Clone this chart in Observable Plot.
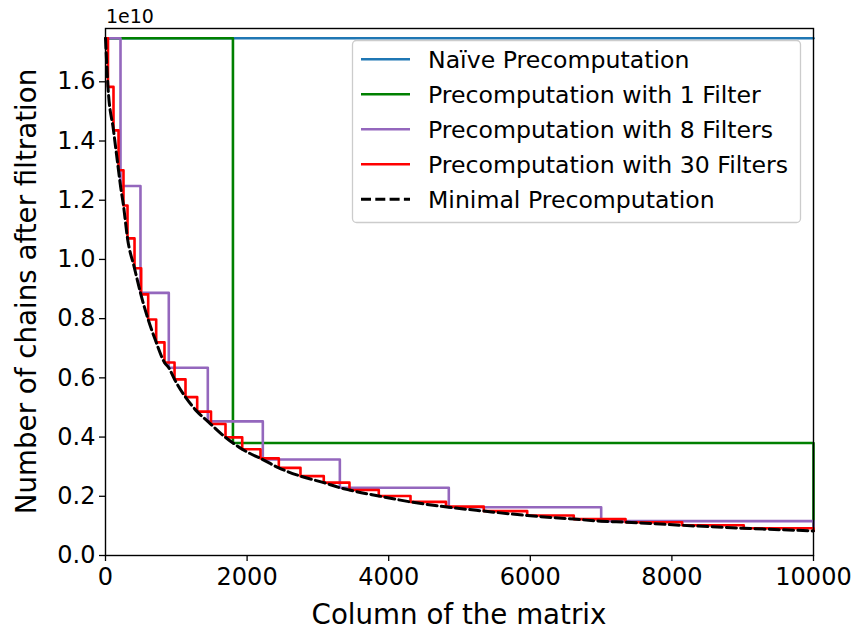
<!DOCTYPE html>
<html><head><meta charset="utf-8">
<script src="https://cdn.jsdelivr.net/npm/d3@7"></script>
<script src="https://cdn.jsdelivr.net/npm/@observablehq/plot@0.6"></script>
<style>html,body{margin:0;padding:0;background:#fff}#chart{width:858px;height:631px}</style>
</head><body><div id="chart"></div>
<script>
// Values (chains in units of 1e10)
const naiveCols = [0, 10000];
const naiveChains = [1.747, 1.747];
const filter1Cols = [0, 1800, 10000];
const filter1Chains = [1.747, 0.380, 0.083];
const filter8Cols = [0, 212, 494, 894, 1445, 2222, 3310, 4849, 7001, 10000];
const filter8Chains = [1.747, 1.248, 0.887, 0.634, 0.453, 0.324, 0.229, 0.163, 0.116, 0.083];
const filter30Cols = [0, 35, 113, 184, 254, 311, 410, 504, 603, 716, 833, 975, 1130, 1295, 1490, 1695, 1931, 2189, 2448, 2754, 3083, 3446, 3860, 4308, 4809, 5343, 5956, 6614, 7345, 8145, 9015, 10000];
const filter30Chains = [1.747, 1.583, 1.436, 1.301, 1.182, 1.071, 0.970, 0.882, 0.797, 0.720, 0.652, 0.595, 0.535, 0.486, 0.444, 0.399, 0.359, 0.328, 0.296, 0.268, 0.246, 0.221, 0.201, 0.181, 0.165, 0.150, 0.135, 0.123, 0.1125, 0.102, 0.092, 0.083];
const minimalCols = [0, 35, 113, 184, 212, 254, 311, 410, 494, 603, 716, 833, 894, 975, 1130, 1295, 1445, 1695, 1931, 2222, 2448, 2754, 3083, 3310, 3446, 3860, 4308, 4849, 5343, 5956, 6614, 7001, 7345, 8145, 9015, 10000];
const minimalChains = [1.747, 1.583, 1.436, 1.301, 1.248, 1.182, 1.071, 0.970, 0.887, 0.797, 0.720, 0.652, 0.634, 0.595, 0.535, 0.486, 0.453, 0.399, 0.359, 0.324, 0.296, 0.268, 0.246, 0.229, 0.221, 0.201, 0.181, 0.163, 0.150, 0.135, 0.123, 0.116, 0.1125, 0.102, 0.092, 0.083];

const seriesNames = ["Naïve Precomputation", "Precomputation with 1 Filter", "Precomputation with 8 Filters", "Precomputation with 30 Filters", "Minimal Precomputation"];
const seriesColors = ["#1f77b4", "#008000", "#9467bd", "#ff0000", "#000000"];
const xTicks = [0, 2000, 4000, 6000, 8000, 10000];
const yTicks = [0, 0.2, 0.4, 0.6, 0.8, 1.0, 1.2, 1.4, 1.6];
const xLabel = "Column of the matrix";
const yLabel = "Number of chains after filtration";
const offsetLabel = "1e10";

const rows = (cols, vals) => cols.map((c, i) => ({col: c, chains: vals[i]}));

const W = 858, H = 631, mL = 105, mR = 45, mT = 28, mB = 76;
const font = "DejaVu Sans";
const stepWidth = 2.6, dashWidth = 3, dash = "10,4.3";

const stepOpts = (color) => ({x: "col", y: "chains", stroke: color, strokeWidth: stepWidth, curve: "step-after"});

const chart = Plot.plot({
  width: W, height: H,
  marginLeft: mL, marginRight: mR, marginTop: mT, marginBottom: mB,
  style: {fontFamily: font, background: "white", color: "black"},
  x: {domain: [0, 10000]},
  y: {domain: [0, 1.78]},
  marks: [
    Plot.line(rows(naiveCols, naiveChains), stepOpts(seriesColors[0])),
    Plot.line(rows(filter1Cols, filter1Chains), stepOpts(seriesColors[1])),
    Plot.line(rows(filter8Cols, filter8Chains), stepOpts(seriesColors[2])),
    Plot.line(rows(filter30Cols, filter30Chains), stepOpts(seriesColors[3])),
    Plot.line(rows(minimalCols, minimalChains), {x: "col", y: "chains", stroke: seriesColors[4], strokeWidth: dashWidth, strokeDasharray: dash, curve: "monotone-x"}),
    Plot.axisX({ticks: xTicks, tickSize: 6, tickPadding: 6, fontSize: 24, label: null, tickFormat: d => String(d), strokeWidth: 1.3}),
    Plot.axisY({ticks: yTicks, tickSize: 6, tickPadding: 4, fontSize: 24, label: null, tickFormat: d3.format(".1f"), strokeWidth: 1.3}),
    Plot.frame({stroke: "black", strokeWidth: 1.4})
  ]
});

document.getElementById("chart").appendChild(chart);
const svg = d3.select(chart);

// axis labels
svg.append("text").attr("x", (mL + W - mR) / 2).attr("y", 624)
  .attr("text-anchor", "middle").attr("font-family", font).attr("font-size", 27.7).attr("fill", "black")
  .text(xLabel);
svg.append("text").attr("transform", `translate(36,${(mT + H - mB) / 2}) rotate(-90)`)
  .attr("text-anchor", "middle").attr("font-family", font).attr("font-size", 27.7).attr("fill", "black")
  .text(yLabel);
svg.append("text").attr("x", 106).attr("y", 23).attr("text-anchor", "start")
  .attr("font-family", font).attr("font-size", 19).attr("fill", "black")
  .text(offsetLabel);

// legend
const lg = svg.append("g").attr("text-anchor", "start");
lg.append("rect").attr("x", 352.5).attr("y", 40.5).attr("width", 448).attr("height", 182)
  .attr("rx", 4).attr("fill", "white").attr("fill-opacity", 0.8).attr("stroke", "#cccccc").attr("stroke-width", 1.3);
seriesNames.forEach((name, i) => {
  const y = 59.3 + i * 35;
  lg.append("line").attr("x1", 361).attr("x2", 410).attr("y1", y).attr("y2", y)
    .attr("stroke", seriesColors[i]).attr("stroke-width", i === 4 ? dashWidth : stepWidth)
    .attr("stroke-dasharray", i === 4 ? dash : null);
  lg.append("text").attr("x", 428).attr("y", y).attr("dy", "0.35em").attr("text-anchor", "start")
    .attr("font-family", font).attr("font-size", 23.6).attr("fill", "black").text(name);
});
</script></body></html>
